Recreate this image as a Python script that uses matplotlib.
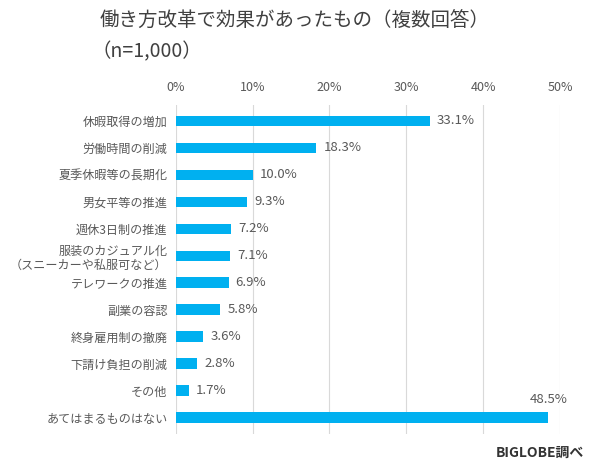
import matplotlib.pyplot as plt
import numpy as np

plt.rcParams['font.family'] = ['Noto Sans CJK JP', 'DejaVu Sans']

categories = ['休暇取得の増加', '労働時間の削減', '夏季休暇等の長期化', '男女平等の推進',
              '週休3日制の推進', '服装のカジュアル化\n（スニーカーや私服可など）',
              'テレワークの推進', '副業の容認', '終身雇用制の撤廃', '下請け負担の削減',
              'その他', 'あてはまるものはない']
values = [33.1, 18.3, 10.0, 9.3, 7.2, 7.1, 6.9, 5.8, 3.6, 2.8, 1.7, 48.5]
ticks = [0, 10, 20, 30, 40, 50]

BAR = '#00B0F0'
TXT = '#595959'

fig = plt.figure(figsize=(5.9, 4.72), dpi=100)
ax = fig.add_axes([0.298, 0.0805, 0.651, 0.6975])

y = np.arange(len(values))
ax.barh(y, values, height=0.4, color=BAR, zorder=3)
ax.set_ylim(len(values) - 0.4, -0.6)
ax.set_xlim(0, 50)

ax.xaxis.tick_top()
ax.set_xticks(ticks)
ax.set_xticklabels([f'{t}%' for t in ticks], color=TXT, fontsize=9)
ax.set_yticks(y)
ax.set_yticklabels(categories, color=TXT, fontsize=8.7, ma='right', linespacing=1.1)
ax.tick_params(length=0, pad=6)
ax.tick_params(axis='x', pad=8)
ax.grid(axis='x', color='#d9d9d9', lw=0.8, zorder=0)
for s in ax.spines.values():
    s.set_visible(False)

for i, v in enumerate(values):
    if i == len(values) - 1:
        ax.text(v, i - 0.45, f'{v:.1f}%', ha='center', va='bottom', color=TXT, fontsize=9.5)
    else:
        ax.text(v + 0.9, i, f'{v:.1f}%', ha='left', va='center', color=TXT, fontsize=9.5)

fig.text(0.168, 0.955, '働き方改革で効果があったもの（複数回答）', fontsize=14,
         color='#404040', va='center')
fig.text(0.155, 0.89, '（n=1,000）', fontsize=14, color='#404040', va='center')
fig.text(0.99, 0.04, 'BIGLOBE調べ', fontsize=10, fontweight='bold', color='#333333',
         ha='right', va='center')

fig.savefig('out.png', dpi=100)
